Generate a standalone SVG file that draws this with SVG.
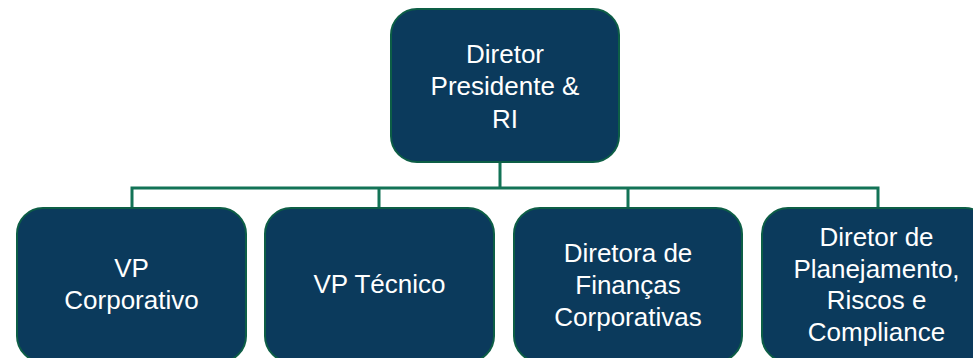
<svg xmlns="http://www.w3.org/2000/svg" width="973" height="358" viewBox="0 0 973 358">
<style>
.box{fill:#0B3A5C;stroke:#0D5E46;stroke-width:2}
.lbl{font-family:"Liberation Sans",Arial,sans-serif;font-size:26px;fill:#FFFFFF;text-anchor:middle}
.conn{fill:none;stroke:#137356;stroke-width:3}
</style>
<rect width="973" height="358" fill="#FFFFFF"/>
<g id="connectors">
<path class="conn" d="M500 162 V188 M132 208 V188 H878 V208 M379 188 V208 M628 188 V208"/>
</g>
<g id="n0">
<rect class="box" x="391" y="9" width="228" height="153" rx="26"/>
<text class="lbl" x="505"><tspan x="505" y="63">Diretor</tspan><tspan x="505" y="95">Presidente &amp;</tspan><tspan x="505" y="128">RI</tspan></text>
</g>
<g id="n1">
<rect class="box" x="17" y="208" width="229" height="154" rx="26"/>
<text class="lbl"><tspan x="131.5" y="277">VP</tspan><tspan x="131.5" y="309">Corporativo</tspan></text>
</g>
<g id="n2">
<rect class="box" x="265" y="208" width="229" height="154" rx="26"/>
<text class="lbl" x="379.5" y="293">VP Técnico</text>
</g>
<g id="n3">
<rect class="box" x="514" y="208" width="228" height="154" rx="26"/>
<text class="lbl"><tspan x="628" y="262">Diretora de</tspan><tspan x="628" y="294">Finanças</tspan><tspan x="628" y="326">Corporativas</tspan></text>
</g>
<g id="n4">
<rect class="box" x="762" y="208" width="229" height="154" rx="26"/>
<text class="lbl"><tspan x="876.5" y="246">Diretor de</tspan><tspan x="876.5" y="277.5">Planejamento,</tspan><tspan x="876.5" y="309">Riscos e</tspan><tspan x="876.5" y="340.5">Compliance</tspan></text>
</g>
</svg>
